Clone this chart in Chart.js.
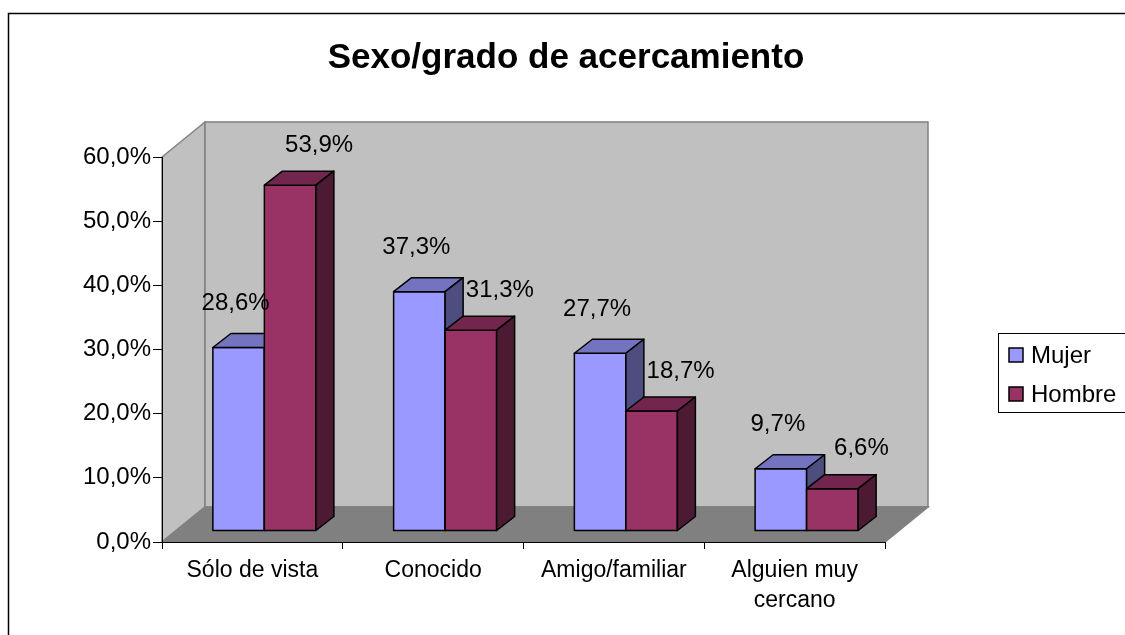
<!DOCTYPE html>
<html>
<head>
<meta charset="utf-8">
<script src="https://cdn.jsdelivr.net/npm/chart.js@4/dist/chart.umd.min.js"></script>
<style>
html,body{margin:0;padding:0;background:#fff;}
#wrap{width:1125px;height:635px;position:relative;}
</style>
</head>
<body>
<div id="wrap"><canvas id="c" width="1125" height="635"></canvas></div>
<script>
const chartTitle = 'Sexo/grado de acercamiento';
const categories = ['Sólo de vista', 'Conocido', 'Amigo/familiar', ['Alguien muy', 'cercano']];
const seriesNames = ['Mujer', 'Hombre'];
const mujer = [28.6, 37.3, 27.7, 9.7];
const hombre = [53.9, 31.3, 18.7, 6.6];
const yTickLabels = ['0,0%', '10,0%', '20,0%', '30,0%', '40,0%', '50,0%', '60,0%'];

const FONT = "'Liberation Sans', Arial, sans-serif";
const COLORS = [
  {front: '#9999FF', top: '#7373BF', side: '#4D4D80'},
  {front: '#993366', top: '#73264D', side: '#4D1A33'}
];
const WALL_DEPTH = {dx: 43, dy: -35};
const BAR_SHIFT = {dx: 12, dy: -11};
const BAR_DEPTH = {dx: 18, dy: -14};
const LABEL_OFFSET = [{dx: -3, dy: -44}, {dx: 29, dy: -40}];

function fmt(v) { return v.toFixed(1).replace('.', ',') + '%'; }

const threeD = {
  id: 'threeD',
  beforeDraw(chart) {
    const ctx = chart.ctx;
    const ca = chart.chartArea;
    const ys = chart.scales.y;
    const y0 = ys.getPixelForValue(ys.min);
    const yt = ys.getPixelForValue(ys.max);
    const L = ca.left, R = ca.right, D = WALL_DEPTH;
    ctx.save();
    ctx.fillStyle = '#fff';
    ctx.fillRect(0, 0, chart.width, chart.height);
    // outer frame
    ctx.strokeStyle = '#000';
    ctx.lineWidth = 1.5;
    ctx.strokeRect(8.5, 13.5, 1300, 800);
    ctx.lineJoin = 'miter';
    ctx.lineWidth = 1.5;
    ctx.strokeStyle = '#808080';
    // side wall
    ctx.beginPath();
    ctx.moveTo(L, y0); ctx.lineTo(L, yt); ctx.lineTo(L + D.dx, yt + D.dy); ctx.lineTo(L + D.dx, y0 + D.dy); ctx.closePath();
    ctx.fillStyle = '#C0C0C0'; ctx.fill(); ctx.stroke();
    // back wall
    ctx.beginPath();
    ctx.rect(L + D.dx, yt + D.dy, R - L, y0 - yt);
    ctx.fillStyle = '#C0C0C0'; ctx.fill(); ctx.stroke();
    // floor
    ctx.beginPath();
    ctx.moveTo(L, y0); ctx.lineTo(R, y0); ctx.lineTo(R + D.dx, y0 + D.dy); ctx.lineTo(L + D.dx, y0 + D.dy); ctx.closePath();
    ctx.fillStyle = '#808080'; ctx.fill(); ctx.stroke();
    ctx.restore();
  },
  afterDatasetsDraw(chart) {
    const ctx = chart.ctx;
    const metas = chart.data.datasets.map((d, i) => chart.getDatasetMeta(i));
    ctx.save();
    ctx.translate(BAR_SHIFT.dx, BAR_SHIFT.dy);
    ctx.lineWidth = 1.5;
    ctx.strokeStyle = '#000';
    ctx.lineJoin = 'round';
    const n = chart.data.labels.length;
    for (let i = 0; i < n; i++) {
      metas.forEach((meta, d) => {
        const el = meta.data[i];
        const p = el.getProps(['x', 'y', 'base', 'width'], true);
        const x0 = p.x - p.width / 2, x1 = p.x + p.width / 2;
        const yt = p.y, yb = p.base;
        const B = BAR_DEPTH, c = COLORS[d];
        // front
        ctx.beginPath(); ctx.rect(x0, yt, x1 - x0, yb - yt);
        ctx.fillStyle = c.front; ctx.fill(); ctx.stroke();
        // top
        ctx.beginPath();
        ctx.moveTo(x0, yt); ctx.lineTo(x1, yt); ctx.lineTo(x1 + B.dx, yt + B.dy); ctx.lineTo(x0 + B.dx, yt + B.dy); ctx.closePath();
        ctx.fillStyle = c.top; ctx.fill(); ctx.stroke();
        // side
        ctx.beginPath();
        ctx.moveTo(x1, yt); ctx.lineTo(x1 + B.dx, yt + B.dy); ctx.lineTo(x1 + B.dx, yb + B.dy); ctx.lineTo(x1, yb); ctx.closePath();
        ctx.fillStyle = c.side; ctx.fill(); ctx.stroke();
      });
    }
    // labels
    ctx.fillStyle = '#000';
    ctx.font = '24px ' + FONT;
    ctx.textAlign = 'center';
    ctx.textBaseline = 'middle';
    metas.forEach((meta, d) => {
      meta.data.forEach((el, i) => {
        const p = el.getProps(['x', 'y'], true);
        const v = chart.data.datasets[d].data[i];
        ctx.fillText(fmt(v), p.x + LABEL_OFFSET[d].dx, p.y + LABEL_OFFSET[d].dy);
      });
    });
    ctx.restore();
  },
  afterDraw(chart) {
    const ctx = chart.ctx;
    ctx.save();
    // title
    ctx.fillStyle = '#000';
    ctx.font = 'bold 35px ' + FONT;
    ctx.textAlign = 'center';
    ctx.textBaseline = 'middle';
    ctx.fillText(chartTitle, 566, 58);
    // legend
    ctx.strokeStyle = '#000';
    ctx.lineWidth = 1;
    ctx.strokeRect(998.5, 333.5, 200, 79);
    ctx.font = '24px ' + FONT;
    ctx.textAlign = 'left';
    chart.data.datasets.forEach((ds, i) => {
      const y = 348 + i * 39;
      ctx.fillStyle = COLORS[i].front;
      ctx.fillRect(1009, y, 14, 14);
      ctx.lineWidth = 1.5;
      ctx.strokeRect(1009, y, 14, 14);
      ctx.fillStyle = '#000';
      ctx.fillText(ds.label, 1031, y + 8);
    });
    ctx.restore();
  }
};

new Chart(document.getElementById('c'), {
  type: 'bar',
  data: {
    labels: categories,
    datasets: [
      {label: seriesNames[0], data: mujer, backgroundColor: 'rgba(0,0,0,0)', borderWidth: 0},
      {label: seriesNames[1], data: hombre, backgroundColor: 'rgba(0,0,0,0)', borderWidth: 0}
    ]
  },
  options: {
    responsive: false,
    animation: false,
    devicePixelRatio: 1,
    barPercentage: 1,
    categoryPercentage: 0.57,
    layout: {padding: {left: 0, right: 240, top: 157, bottom: 0}},
    plugins: {legend: {display: false}, title: {display: false}, tooltip: {enabled: false}},
    scales: {
      x: {
        grid: {drawOnChartArea: false, offset: true, tickLength: 7, color: '#000', lineWidth: 1},
        border: {color: '#000', width: 1},
        ticks: {font: {family: FONT, size: 23, lineHeight: 1.3}, color: '#000', padding: 7, maxRotation: 0, autoSkip: false},
        afterFit(s) { s.height = 93; }
      },
      y: {
        min: 0, max: 60,
        grid: {drawOnChartArea: false, tickLength: 9, color: '#000', lineWidth: 1},
        border: {color: '#000', width: 1},
        ticks: {stepSize: 10, font: {family: FONT, size: 24}, color: '#000', padding: 2,
          callback: (v, idx) => yTickLabels[idx]},
        afterFit(s) { s.width = 162; }
      }
    }
  },
  plugins: [threeD]
});
</script>
</body>
</html>
